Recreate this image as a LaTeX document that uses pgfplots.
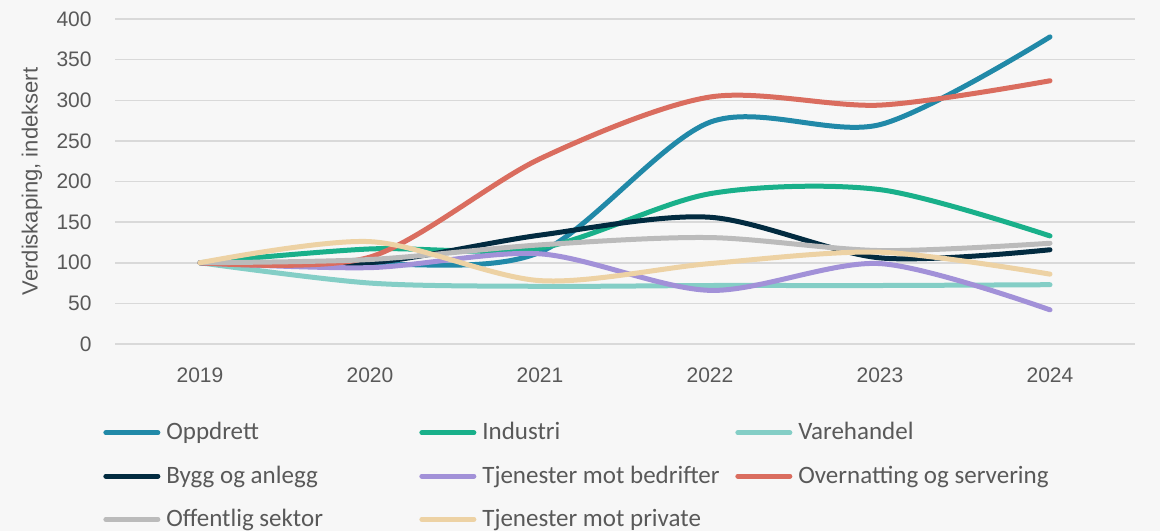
\documentclass[border=0pt]{standalone}
\usepackage{fontspec}
\setmainfont{Liberation Sans}
\newfontfamily\legfont{Carlito}
\usepackage{pgfplots}
\pgfplotsset{compat=1.18}
\definecolor{bg}{HTML}{F7F7F7}
\definecolor{gridc}{HTML}{D9D9D9}
\definecolor{txt}{HTML}{595959}
\definecolor{cOpp}{HTML}{2189A8}
\definecolor{cInd}{HTML}{19B08A}
\definecolor{cVar}{HTML}{84CEC6}
\definecolor{cByg}{HTML}{022B40}
\definecolor{cTjb}{HTML}{A291D8}
\definecolor{cOve}{HTML}{DA6D5F}
\definecolor{cOff}{HTML}{BBBBBB}
\definecolor{cTjp}{HTML}{EDD2A4}
\begin{document}
\begin{tikzpicture}
\fill[bg] (-57.5pt,-93.5pt) rectangle (522.5pt,172pt);
\path[use as bounding box] (-57.5pt,-93.5pt) rectangle (522.5pt,172pt);
\begin{axis}[
  at={(0pt,0pt)}, anchor=south west,
  scale only axis, width=510pt, height=162.5pt,
  xmin=2018.5, xmax=2024.5, ymin=0, ymax=400,
  xtick={2019,2020,2021,2022,2023,2024},
  ytick={0,50,...,400},
  xticklabel={\pgfmathprintnumber[1000 sep={}]{\tick}},
  /pgf/number format/assume math mode=true,
  /pgf/number format/1000 sep={},
  axis line style={draw=none},
  major tick style={draw=none},
  ymajorgrids, grid style={gridc, line width=0.75pt},
  tick label style={font=\fontsize{10.5}{12}\selectfont, text=txt},
  xticklabel style={anchor=center, yshift=-15.5pt},
  yticklabel style={anchor=east, inner sep=0pt, xshift=-11.5pt},
  ylabel={Verdiskaping, indeksert},
  ylabel style={at={(axis description cs:-0.0814,0.5)}, anchor=center, font=\fontsize{11}{13}\selectfont, text=txt},
  clip=false,
  every axis plot/.append style={line width=2.5pt, line cap=round, line join=round, smooth, tension=0.5, no markers},
  legend columns=3,
  legend style={at={(rel axis cs:-0.0118,-0.228)}, anchor=north west, draw=none, fill=none,
    font=\legfont\fontsize{12.5}{14}\selectfont, text=txt, inner sep=0pt, row sep=7.5pt,
    /tikz/every odd column/.append style={column sep=1pt}},
  legend cell align=left,
  legend image code/.code={\draw[#1, line width=2.5pt, line cap=round] (1.25pt,0pt) -- (27.25pt,0pt);},
]
\addplot[cOpp] coordinates {(2019,100)(2020,98)(2021,113)(2022,273)(2023,270)(2024,378)};
\addlegendentry{\makebox[124.5pt][l]{Oppdrett}}
\addplot[cInd] coordinates {(2019,100)(2020,117)(2021,118)(2022,185)(2023,190)(2024,133)};
\addlegendentry{\makebox[124.5pt][l]{Industri}}
\addplot[cVar] coordinates {(2019,100)(2020,75)(2021,71)(2022,72)(2023,72)(2024,73)};
\addlegendentry{\makebox[124.5pt][l]{Varehandel}}
\addplot[cByg] coordinates {(2019,100)(2020,100)(2021,134)(2022,156)(2023,106)(2024,116)};
\addlegendentry{\makebox[124.5pt][l]{Bygg og anlegg}}
\addplot[cTjb] coordinates {(2019,100)(2020,94)(2021,111)(2022,66)(2023,99)(2024,42)};
\addlegendentry{\makebox[124.5pt][l]{Tjenester mot bedrifter}}
\addplot[cOve] coordinates {(2019,100)(2020,107)(2021,228)(2022,304)(2023,294)(2024,324)};
\addlegendentry{\makebox[124.5pt][l]{Overnatting og servering}}
\addplot[cOff] coordinates {(2019,100)(2020,104)(2021,122)(2022,131)(2023,115)(2024,124)};
\addlegendentry{\makebox[124.5pt][l]{Offentlig sektor}}
\addplot[cTjp] coordinates {(2019,100)(2020,126)(2021,78)(2022,99)(2023,113)(2024,86)};
\addlegendentry{\makebox[124.5pt][l]{Tjenester mot private}}
\end{axis}
\end{tikzpicture}
\end{document}
